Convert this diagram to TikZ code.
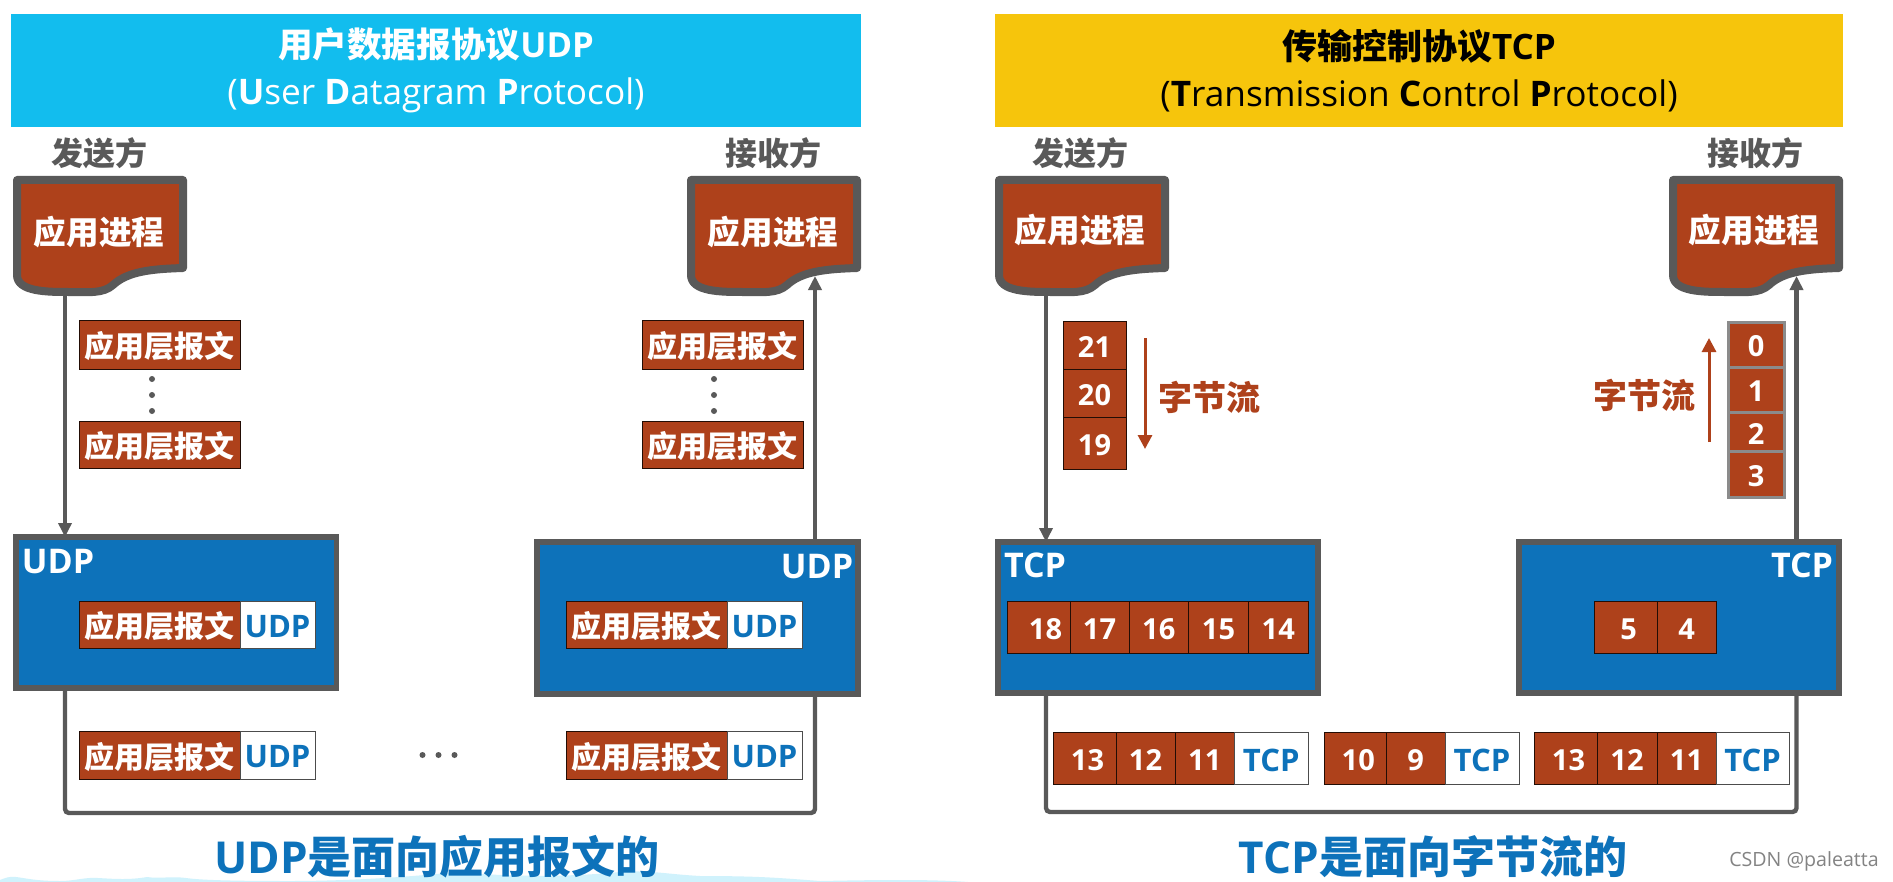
\documentclass[tikz,border=0pt]{standalone}
\usepackage{fontspec}
\setmainfont{Open Sans}
\newfontfamily\cjk{Noto Sans CJK SC}
\usetikzlibrary{arrows.meta}
\definecolor{hdrblue}{HTML}{12BDEE}
\definecolor{hdryel}{HTML}{F6C50C}
\definecolor{brick}{HTML}{AE411B}
\definecolor{layerblue}{HTML}{0D72BA}
\definecolor{ink}{HTML}{595959}
\newcommand{\zh}[1]{{\cjk\bfseries #1}}
\newcommand{\fs}[1]{\fontsize{#1}{#1}\selectfont}
\newcommand{\bx}[7]{\node[#6,inner sep=0pt,outer sep=0pt,minimum width={(#4-#2)*0.5pt},minimum height={(#5-#3)*0.5pt}] (#1) at ({(#2+#4)/2},{(#3+#5)/2}) {#7};}
\newcommand{\bxl}[7]{\bx{#1}{#2}{#3}{#4}{#5}{#6}{\raisebox{-1pt}[\height][\depth]{#7}}}
\newcommand{\docshape}[1]{%
  \begin{scope}[shift={(#1,0)}]
  \draw[ink,line width=4pt,fill=brick,line join=round]
    (4,180) -- (170,180) -- (170,268)
    .. controls (140,269) and (115,271) .. (100,285)
    .. controls (90,294) and (75,292) .. (56,292)
    .. controls (35,292) and (4,292) .. (4,275) -- cycle;
  \end{scope}}
\tikzset{
  x=0.5pt,y=-0.5pt,
  msg/.style={fill=brick,draw=black!80!brick,line width=.5pt,text=white,font=\fs{15}},
  tag/.style={fill=white,draw=black!70,line width=.5pt,text=layerblue,font=\fs{15.5}\bfseries},
  num/.style={fill=brick,draw=black!80!brick,line width=.5pt,text=white,font=\fs{14.5}\bfseries},
  numg/.style={fill=brick,draw=ink!70,line width=1.5pt,text=white,font=\fs{14.5}\bfseries},
  layer/.style={fill=layerblue,draw=ink,line width=2.8pt},
  side/.style={text=ink,font=\fs{16}},
  lbl/.style={text=white,font=\fs{17}\bfseries},
  proc/.style={text=white,font=\fs{16.3}},
  flow/.style={ink,line width=2.2pt,-{Triangle[length=7pt,width=6.5pt]}},
  wire/.style={ink,line width=2.2pt,rounded corners=2pt},
  bflow/.style={brick,line width=1.5pt,-{Triangle[length=7pt,width=7pt]}},
  bigt/.style={text=layerblue,font=\fs{22}\bfseries},
  dotm/.style={circle,fill=ink,inner sep=0pt,minimum size=3pt},
}
\begin{document}
\begin{tikzpicture}
\useasboundingbox (0,0) rectangle (1893,882);
\fill[white] (0,0) rectangle (1893,882);
% bottom wave
\fill[hdrblue!20] (0,882) -- (0,880) .. controls (5,878) and (10,876) .. (16,877) .. controls (25,878) and (35,881) .. (60,881)
  .. controls (75,881) and (85,877) .. (98,878) .. controls (115,879) and (130,880) .. (147,877)
  .. controls (160,879) and (170,876) .. (186,878) .. controls (200,880) and (230,881) .. (290,881)
  .. controls (340,881) and (400,878) .. (456,872) .. controls (500,876) and (560,878) .. (620,872)
  .. controls (650,870) and (665,874) .. (700,876) .. controls (760,876) and (780,878) .. (820,881)
  .. controls (870,880) and (930,879) .. (968,882) -- cycle;
% headers
\bx{hu}{11}{14}{861}{127}{fill=hdrblue,text=white,align=center}{\fs{17.3}\zh{用户数据报协议}\bfseries UDP\\[7pt]\fs{17.6}({\bfseries U}ser {\bfseries D}atagram {\bfseries P}rotocol)}
\bx{ht}{995}{14}{1843}{127}{fill=hdryel,text=black,align=center}{\fs{17.5}\zh{传输控制协议}\bfseries TCP\\[7pt]\fs{17.6}({\bfseries T}ransmission {\bfseries C}ontrol {\bfseries P}rotocol)}
% side labels
\node[side] (s1) at (99,153) {\zh{发送方}};
\node[side] (r1) at (773,153) {\zh{接收方}};
\node[side] (s2) at (1080,153) {\zh{发送方}};
\node[side] (r2) at (1755,153) {\zh{接收方}};
% application processes
\docshape{13}
\docshape{687}
\docshape{995}
\docshape{1669}
\node[proc] (p1) at (99,232) {\zh{应用进程}};
\node[proc] (p2) at (773,232) {\zh{应用进程}};
\node[proc] (p3) at (1080,230) {\zh{应用进程}};
\node[proc] (p4) at (1754,230) {\zh{应用进程}};
% connector anchors
\coordinate (a1) at (65,296);
\coordinate (a2) at (815,276);
\coordinate (a3) at (1046,296);
\coordinate (a4) at (1796.5,276);
% layer boxes
\bx{lu1}{16}{537}{336.5}{688}{layer}{}
\bx{lu2}{537}{542}{858}{694}{layer}{}
\bx{lt1}{998}{542}{1318}{693}{layer}{}
\bx{lt2}{1519}{542}{1839}{693}{layer}{}
\node[lbl] (lab1) at (58,562) {UDP};
\node[lbl] (lab2) at (817,567) {UDP};
\node[lbl] (lab3) at (1035,565) {TCP};
\node[lbl] (lab4) at (1802,565) {TCP};
% connectors
\draw[flow] (a1) -- (a1 |- lu1.north);
\draw[flow] (lu2.north -| a2) -- (a2);
\draw[flow] (a3) -- (a3 |- lt1.north);
\draw[flow] (lt2.north -| a4) -- (a4);
\coordinate (b1) at (65,813);
\coordinate (b2) at (815,813);
\coordinate (b3) at (1046,812);
\coordinate (b4) at (1796.5,812);
\draw[wire] (lu1.south -| a1) -- (b1) -- (b2) -- (lu2.south -| a2);
\draw[wire] (lt1.south -| a3) -- (b3) -- (b4) -- (lt2.south -| a4);
% UDP side messages
\bxl{m1}{79}{320}{240}{369}{msg}{\zh{应用层报文}}
\bxl{m2}{79}{421}{240}{468}{msg}{\zh{应用层报文}}
\bxl{m3}{642}{320}{803}{369}{msg}{\zh{应用层报文}}
\bxl{m4}{642}{421}{803}{468}{msg}{\zh{应用层报文}}
\foreach \n/\xx/\yy in {d1/152/379,d2/152/395,d3/152/411,d4/714/379,d5/714/395,d6/714/411,d7/422.5/755,d8/438.5/755,d9/454.5/755}
  \node[dotm] (\n) at (\xx,\yy) {};
% UDP inner packets
\bxl{m5}{79}{601}{240}{648}{msg}{\zh{应用层报文}}
\bxl{t5}{240}{601}{315}{648}{tag}{UDP}
\bxl{m6}{566}{601}{727}{648}{msg}{\zh{应用层报文}}
\bxl{t6}{727}{601}{802}{648}{tag}{UDP}
\bxl{m7}{79}{731}{240}{779}{msg}{\zh{应用层报文}}
\bxl{t7}{240}{731}{315}{779}{tag}{UDP}
\bxl{m8}{566}{731}{727}{779}{msg}{\zh{应用层报文}}
\bxl{t8}{727}{731}{802}{779}{tag}{UDP}
% TCP sender stack
\bxl{n21}{1063}{321}{1126}{369}{num}{21}
\bxl{n20}{1063}{369}{1126}{417}{num}{20}
\bxl{n19}{1063}{417}{1126}{469}{num}{19}
\coordinate (fa) at (1145,338);
\coordinate (fb) at (1145,449);
\draw[bflow] (fa) -- (fb);
\node[text=brick,font=\fs{17}] (bs1) at (1209,397) {\zh{字节流}};
% TCP receiver stack
\bxl{n0}{1728}{322}{1784}{367}{numg}{0}
\bxl{n1}{1728}{367}{1784}{412}{numg}{1}
\bxl{n2}{1728}{412}{1784}{451}{numg}{2}
\bxl{n3}{1728}{451}{1784}{497}{numg}{3}
\coordinate (fc) at (1709,442);
\coordinate (fd) at (1709,338);
\draw[bflow] (fc) -- (fd);
\node[text=brick,font=\fs{17}] (bs2) at (1644,395) {\zh{字节流}};
% TCP inner cells
\bxl{c18}{1007}{601}{1070}{653}{num}{\hspace{7pt}18}
\bxl{c17}{1070}{601}{1129}{653}{num}{17}
\bxl{c16}{1129}{601}{1188.5}{653}{num}{16}
\bxl{c15}{1188.5}{601}{1248.5}{653}{num}{15}
\bxl{c14}{1248.5}{601}{1308}{653}{num}{14}
\bxl{c5}{1594}{601}{1657}{653}{num}{\hspace{3pt}5}
\bxl{c4}{1657}{601}{1716}{653}{num}{4}
% TCP segments
\bxl{e13}{1053}{732}{1116}{784}{num}{\hspace{3pt}13}
\bxl{e12}{1116}{732}{1175}{784}{num}{12}
\bxl{e11}{1175}{732}{1234.5}{784}{num}{11}
\bxl{et1}{1234.5}{732}{1308}{784}{tag}{TCP}
\bxl{f10}{1324}{732}{1386.5}{784}{num}{\hspace{3pt}10}
\bxl{f9}{1386.5}{732}{1445}{784}{num}{9}
\bxl{ft}{1445}{732}{1519}{784}{tag}{TCP}
\bxl{g13}{1534}{732}{1597}{784}{num}{\hspace{3pt}13}
\bxl{g12}{1597}{732}{1657}{784}{num}{12}
\bxl{g11}{1657}{732}{1716}{784}{num}{11}
\bxl{gt}{1716}{732}{1789}{784}{tag}{TCP}
% footers
\node[bigt] (fu) at (437,857) {UDP\zh{是面向应用报文的}};
\node[bigt] (ft2) at (1433,857) {TCP\zh{是面向字节流的}};
\node[text=ink!75,font=\fs{9.8}] (wm) at (1804,861) {CSDN @paleatta};
\end{tikzpicture}
\end{document}
